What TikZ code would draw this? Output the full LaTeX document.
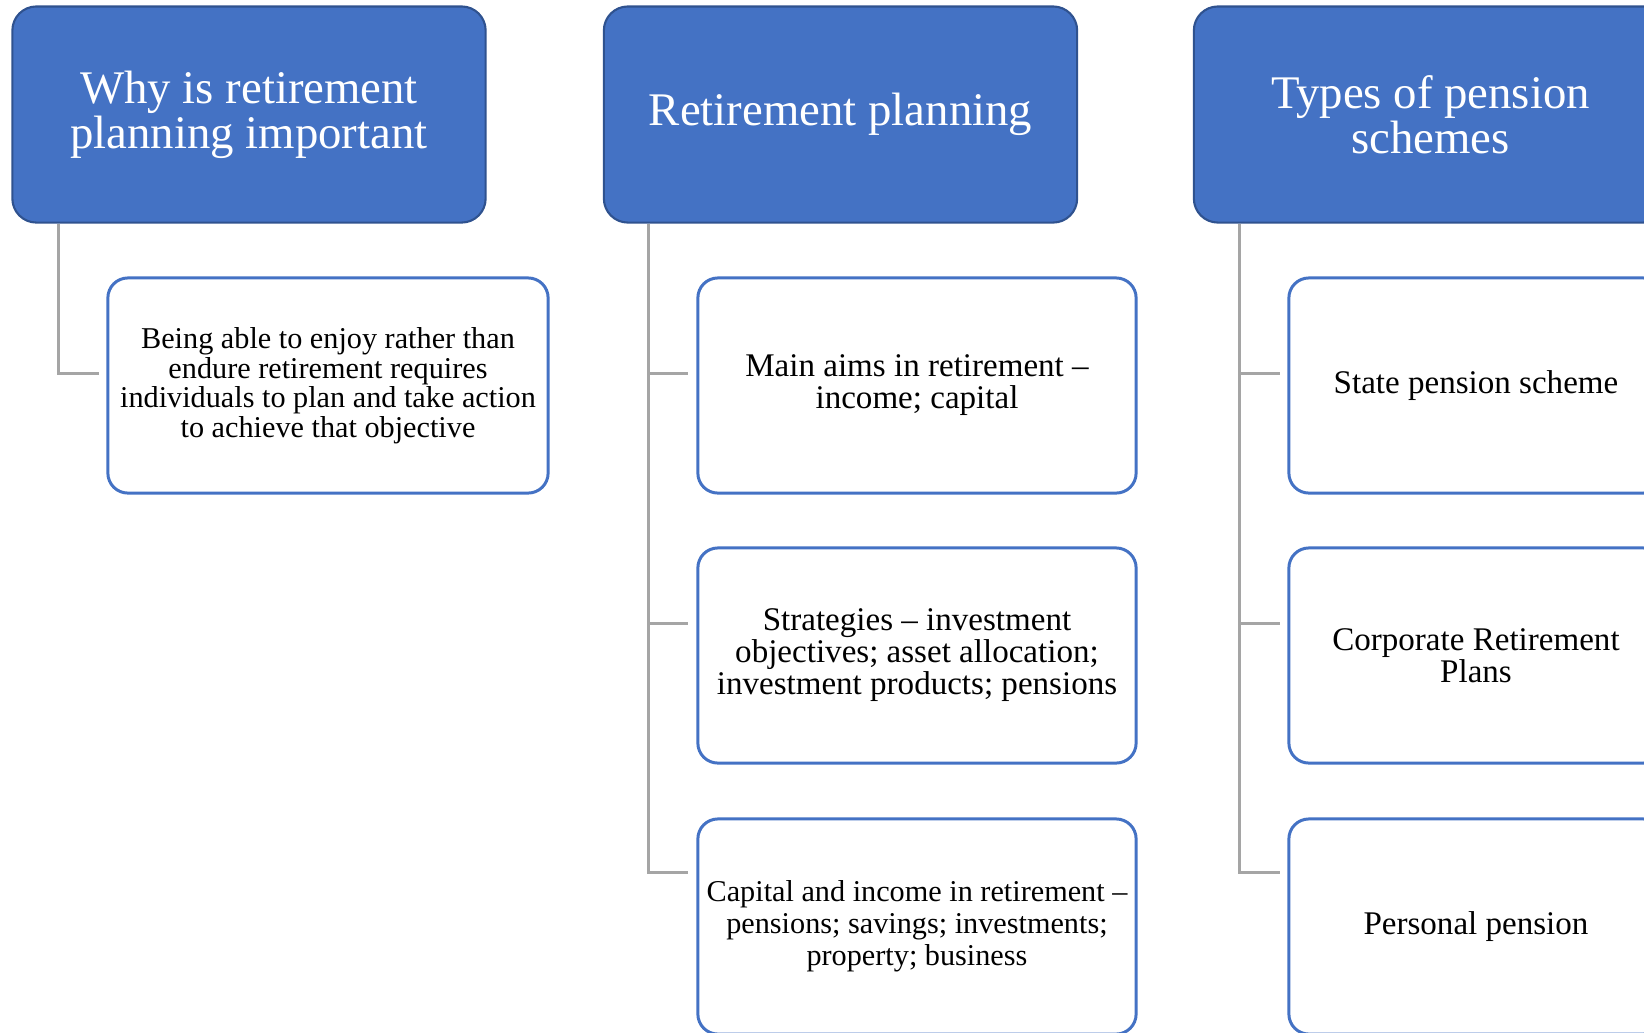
\documentclass[tikz,border=0pt]{standalone}
\usepackage{fontspec}
\setmainfont{Liberation Serif}
\usetikzlibrary{calc}

\definecolor{headblue}{HTML}{4472C4}
\definecolor{headedge}{HTML}{2F528F}
\definecolor{linkgray}{HTML}{A5A5A5}

\begin{document}
\begin{tikzpicture}[x=0.01cm, y=-0.01cm,
	headnode/.style={rectangle, rounded corners=0.24cm, draw=headedge, fill=headblue, line width=0.6pt, text=white, align=center, minimum width=4.73cm, minimum height=2.16cm, font=\fontsize{13.3}{12.8}\selectfont},
	itemnode/.style={rectangle, rounded corners=0.2cm, draw=headblue, fill=white, line width=0.85pt, text=black, align=center, inner xsep=1pt, minimum height=2.15cm, font=\fontsize{9.4}{9.1}\selectfont},
	leftnode/.style={itemnode, minimum width=4.40cm, font=\fontsize{8.6}{8.4}\selectfont},
	midnode/.style={itemnode, minimum width=4.38cm},
	rightnode/.style={itemnode, minimum width=3.74cm},
	linkline/.style={draw=linkgray, line width=0.85pt}]
	\useasboundingbox (0,0) rectangle (1644,1032);

	% headers
	\node[headnode] (why) at (249,114.5) {Why is retirement\\planning important};
	\node[headnode] (plan) at (840.5,114.5) {Retirement planning};
	\node[headnode] (types) at (1430.5,114.5) {Types of pension\\schemes};

	% first column
	\node[leftnode] (enjoy) at (328,385.5) {Being able to enjoy rather than\\endure retirement requires\\individuals to plan and take action\\to achieve that objective};

	% second column
	\node[midnode] (aims) at (917,385.5) {Main aims in retirement \textendash\\income; capital};
	\node[midnode] (strat) at (917,655.5) {Strategies \textendash{} investment\\objectives; asset allocation;\\investment products; pensions};
	\node[midnode, font=\fontsize{8.6}{9.1}\selectfont] (capinc) at (917,926.5) {Capital and income in retirement \textendash\\pensions; savings; investments;\\property; business};

	% third column
	\node[rightnode] (state) at (1476,385.5) {State pension scheme};
	\node[rightnode] (corp) at (1476,655.5) {Corporate Retirement\\Plans};
	\node[rightnode] (pers) at (1476,926.5) {Personal pension};

	% connectors
	\draw[linkline] ($(why.south west)+(47.5,0)$) |- ($(enjoy.west)+(-7,-12.5)$);

	\draw[linkline] ($(plan.south west)+(46,0)$) |- ($(aims.west)+(-8,-12.5)$);
	\draw[linkline] ($(plan.south west)+(46,0)$) |- ($(strat.west)+(-8,-32.5)$);
	\draw[linkline] ($(plan.south west)+(46,0)$) |- ($(capinc.west)+(-8,-54.5)$);

	\draw[linkline] ($(types.south west)+(47,0)$) |- ($(state.west)+(-7,-12.5)$);
	\draw[linkline] ($(types.south west)+(47,0)$) |- ($(corp.west)+(-7,-32.5)$);
	\draw[linkline] ($(types.south west)+(47,0)$) |- ($(pers.west)+(-7,-54.5)$);

\end{tikzpicture}
\end{document}
